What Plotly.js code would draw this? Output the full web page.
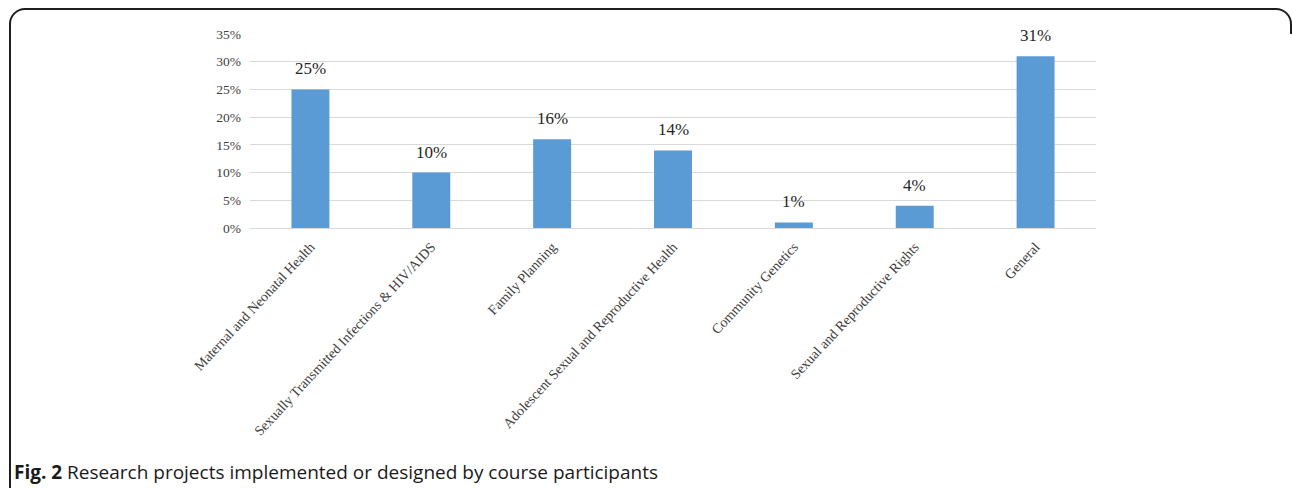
<!DOCTYPE html>
<html>
<head>
<meta charset="utf-8">
<script src="https://cdn.plot.ly/plotly-3.0.1.min.js"></script>
<style>
  html, body { margin: 0; padding: 0; background: #fff; }
  #wrap { position: relative; width: 1292px; height: 488px; overflow: hidden; background: #fff; }
  #frame { position: absolute; left: 9px; top: 8px; width: 1283px; height: 700px;
           border: 2px solid #1e1e1e; border-radius: 16px; box-sizing: border-box; }
  #mask { position: absolute; left: 1276px; top: 34px; width: 30px; height: 470px; background: #fff; }
  #chart { position: absolute; left: 0; top: 0; width: 1292px; height: 488px; }
</style>
</head>
<body>
<div id="wrap">
  <div id="frame"></div>
  <div id="mask"></div>
  <div id="chart"></div>
</div>
<script>
const categories = [
  "Maternal and Neonatal Health",
  "Sexually Transmitted Infections & HIV/AIDS",
  "Family Planning",
  "Adolescent Sexual and Reproductive Health",
  "Community Genetics",
  "Sexual and Reproductive Rights",
  "General"
];
const percentages = [25, 10, 16, 14, 1, 4, 31];
const yTickValues = [0, 5, 10, 15, 20, 25, 30, 35];
const yTickLabels = ["0%", "5%", "10%", "15%", "20%", "25%", "30%", "35%"];
const captionBold = "Fig. 2";
const captionText = "Research projects implemented or designed by course participants";

const serif = "Liberation Serif, Times New Roman, serif";

const trace = {
  type: "bar",
  x: categories,
  y: percentages,
  marker: { color: "#5B9BD5" },
  hoverinfo: "x+y"
};

const annotations = categories.map((c, i) => ({
  x: c, y: percentages[i], xref: "x", yref: "y",
  text: percentages[i] + "%",
  showarrow: false, yanchor: "bottom", yshift: 9,
  font: { family: serif, size: 17, color: "#262626" }
}));

annotations.push({
  xref: "paper", yref: "paper",
  x: -0.2817, y: -1.258, xanchor: "left", yanchor: "middle",
  text: "<b>" + captionBold + "</b> " + captionText,
  showarrow: false,
  font: { family: "Open Sans, sans-serif", size: 19, color: "#1a1a1a" }
});

const layout = {
  width: 1292, height: 488,
  margin: { l: 249.5, r: 195.5, t: 34, b: 260, pad: 0 },
  paper_bgcolor: "rgba(0,0,0,0)",
  plot_bgcolor: "rgba(0,0,0,0)",
  showlegend: false,
  bargap: 0.686,
  xaxis: {
    type: "category",
    tickangle: -47,
    tickfont: { family: serif, size: 14, color: "#404040" },
    ticklabelstandoff: 7,
    showgrid: false, showline: false, ticks: "",
    automargin: false
  },
  yaxis: {
    range: [0, 35],
    tickvals: yTickValues,
    ticktext: yTickLabels,
    tickfont: { family: serif, size: 13.5, color: "#404040" },
    ticklabelstandoff: 8,
    showgrid: true, gridcolor: "#d9d9d9", gridwidth: 1,
    zeroline: true, zerolinecolor: "#d9d9d9", zerolinewidth: 1,
    showline: false, ticks: "", ticklen: 0,
    automargin: false
  },
  annotations: annotations
};

Plotly.newPlot("chart", [trace], layout, { displayModeBar: false, staticPlot: true });
</script>
</body>
</html>
